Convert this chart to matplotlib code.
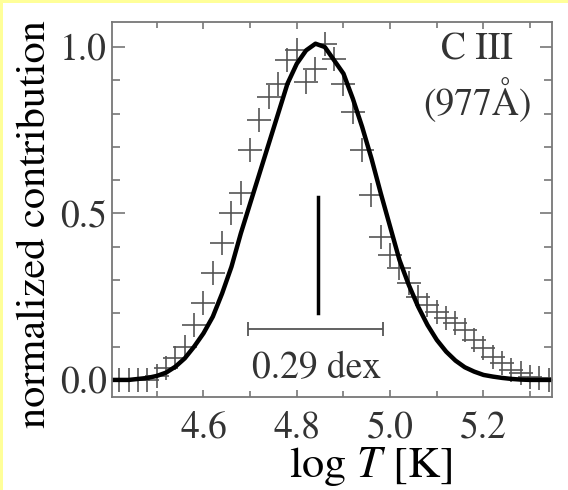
import matplotlib
matplotlib.use('Agg')
import matplotlib.pyplot as plt
from matplotlib.patches import Rectangle

plt.rcParams['font.family'] = ['STIXGeneral', 'Liberation Serif', 'DejaVu Serif']
plt.rcParams['mathtext.fontset'] = 'stix'

# measured contribution (crosses)
logt_pts = [4.42, 4.44, 4.46, 4.48, 4.50, 4.52, 4.54, 4.56, 4.58, 4.60,
            4.62, 4.64, 4.66, 4.68, 4.70, 4.72, 4.74, 4.76, 4.78, 4.80,
            4.82, 4.84, 4.86, 4.88, 4.90, 4.92, 4.94, 4.96, 4.98, 5.00,
            5.02, 5.04, 5.06, 5.08, 5.10, 5.12, 5.14, 5.16, 5.18, 5.20,
            5.22, 5.24, 5.26, 5.28, 5.30, 5.32, 5.34]
contrib_pts = [0.0, 0.0, 0.0, 0.0, 0.012, 0.036, 0.066, 0.10, 0.165, 0.23,
               0.32, 0.41, 0.50, 0.56, 0.69, 0.78, 0.85, 0.89, 0.96, 0.99,
               0.895, 0.935, 1.01, 0.965, 0.89, 0.805, 0.69, 0.555, 0.43, 0.375,
               0.335, 0.29, 0.25, 0.225, 0.205, 0.185, 0.17, 0.15, 0.12, 0.095,
               0.068, 0.05, 0.03, 0.02, 0.01, 0.005, 0.0]

# fitted curve (thick line)
logt_fit = [4.40, 4.42, 4.44, 4.46, 4.48, 4.50, 4.52, 4.54, 4.56, 4.58,
            4.60, 4.62, 4.64, 4.66, 4.68, 4.70, 4.72, 4.74, 4.76, 4.78,
            4.80, 4.82, 4.84, 4.86, 4.88, 4.90, 4.92, 4.94, 4.96, 4.98,
            5.00, 5.02, 5.04, 5.06, 5.08, 5.10, 5.12, 5.14, 5.16, 5.18,
            5.20, 5.22, 5.24, 5.26, 5.28, 5.30, 5.32, 5.35]
contrib_fit = [0.0, 0.0, 0.0, 0.003, 0.006, 0.012, 0.022, 0.04, 0.065, 0.10,
               0.14, 0.19, 0.26, 0.34, 0.44, 0.53, 0.62, 0.71, 0.80, 0.89,
               0.95, 0.99, 1.01, 1.0, 0.96, 0.92, 0.845, 0.76, 0.665, 0.56,
               0.46, 0.36, 0.285, 0.22, 0.165, 0.12, 0.085, 0.058, 0.038, 0.025,
               0.015, 0.01, 0.006, 0.003, 0.001, 0.0, 0.0, 0.0]

fwhm_lo, fwhm_hi = 4.695, 4.985
fwhm_label = '0.29 dex'
peak_x = 4.845

fig = plt.figure(figsize=(5.68, 4.90), dpi=100)
fig.patch.set_facecolor('white')
# yellow strips at top and left edge
fig.patches.append(Rectangle((0, 1 - 3 / 490), 1, 3 / 490, transform=fig.transFigure,
                             facecolor='#ffff99', edgecolor='none'))
fig.patches.append(Rectangle((0, 0), 3 / 568, 1, transform=fig.transFigure,
                             facecolor='#ffff99', edgecolor='none'))

ax = fig.add_axes([0.198, 0.190, 0.774, 0.765])
ax.plot(logt_pts, contrib_pts, linestyle='none', marker='+', markersize=17,
        markeredgewidth=1.2, color='#555555')
ax.plot(logt_fit, contrib_fit, color='black', linewidth=3.2)

# FWHM bar and peak marker
ax.errorbar([(fwhm_lo + fwhm_hi) / 2], [0.153], xerr=[(fwhm_hi - fwhm_lo) / 2],
            color='#555555', capsize=5, elinewidth=1.3, capthick=1.3, fmt='none')
ax.plot([peak_x, peak_x], [0.20, 0.55], color='black', linewidth=2.5)
ax.text(4.842, 0.035, fwhm_label, ha='center', va='center', fontsize=27, color='#333333')

ax.text(5.187, 0.99, 'C III', ha='center', va='center', fontsize=27, color='#333333')
ax.text(5.187, 0.84, '(977Å)', ha='center', va='center', fontsize=27, color='#333333')

ax.set_xlim(4.405, 5.347)
ax.set_ylim(-0.051, 1.075)
ax.set_xticks([4.6, 4.8, 5.0, 5.2])
ax.set_xticks([4.5, 4.7, 4.9, 5.1, 5.3], minor=True)
ax.set_xticklabels(['4.6', '4.8', '5.0', '5.2'])
ax.set_yticks([0.0, 0.5, 1.0])
ax.set_yticks([0.1, 0.2, 0.3, 0.4, 0.6, 0.7, 0.8, 0.9], minor=True)
ax.set_yticklabels(['0.0', '0.5', '1.0'])

for s in ax.spines.values():
    s.set_color('#777777')
    s.set_linewidth(1.3)
ax.tick_params(axis='both', which='both', direction='in', top=True, right=True,
               color='#777777', labelsize=27, labelcolor='#333333')
ax.tick_params(axis='x', which='major', length=5, width=1.2, pad=10)
ax.tick_params(axis='x', which='minor', length=4, width=1.2)
ax.tick_params(axis='y', which='major', length=9, width=1.2, pad=4)
ax.tick_params(axis='y', which='minor', length=6, width=1.2)

ax.set_xlabel(r'log $T$ [K]', fontsize=32)
ax.set_ylabel('normalized contribution', fontsize=30.5)
ax.xaxis.set_label_coords((371 - 113) / 439, -0.128)
ax.yaxis.set_label_coords(-0.132, 0.46)

fig.savefig('out.png', dpi=100)
